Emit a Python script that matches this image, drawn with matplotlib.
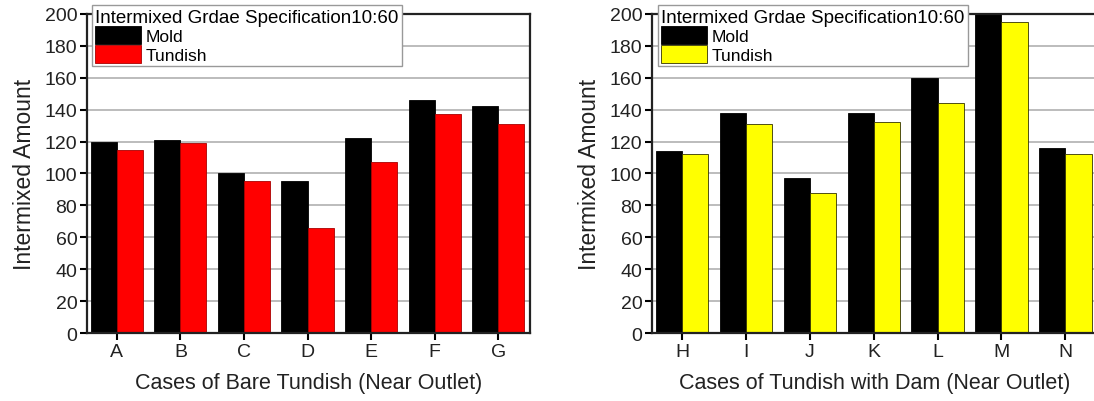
import matplotlib.pyplot as plt
import numpy as np

plt.rcParams['font.family'] = ['Liberation Sans', 'DejaVu Sans']

# data
cases_bare = ['A', 'B', 'C', 'D', 'E', 'F', 'G']
mold_bare = [120, 121, 100, 95, 122, 146, 142]
tundish_bare = [115, 119, 95, 66, 107, 137, 131]

cases_dam = ['H', 'I', 'J', 'K', 'L', 'M', 'N']
mold_dam = [114, 138, 97, 138, 160, 200, 116]
tundish_dam = [112, 131, 88, 132, 144, 195, 112]

legend_title = 'Intermixed Grdae Specification10:60'

fig = plt.figure(figsize=(10.94, 4.02), dpi=100)
ax1 = fig.add_axes([0.0795, 0.169, 0.405, 0.794])
ax2 = fig.add_axes([0.596, 0.169, 0.407, 0.794])


def draw(ax, cases, mold, tundish, color, edge, xlabel, leg_x):
    x = np.arange(len(cases))
    w = 0.41
    ax.set_axisbelow(True)
    ax.grid(axis='y', color='#b0b0b0', linewidth=1.2)
    ax.bar(x - w / 2, mold, w, color='black', edgecolor='black',
           linewidth=0.6, label='Mold')
    ax.bar(x + w / 2, tundish, w, color=color, edgecolor=edge,
           linewidth=0.6, label='Tundish')
    ax.set_xlim(-0.47, 6.5)
    ax.set_ylim(0, 200)
    ax.set_yticks(range(0, 201, 20))
    ax.set_xticks(x)
    ax.set_xticklabels(cases)
    ax.tick_params(direction='out', length=5, width=1.5, labelsize=14,
                   labelcolor='#222222', pad=2)
    for s in ax.spines.values():
        s.set_linewidth(1.6)
        s.set_color('#222222')
    ax.set_xlabel(xlabel, fontsize=15.5, color='#222222', labelpad=9)
    ax.set_ylabel('Intermixed Amount', fontsize=16.5, color='#222222', labelpad=6)
    leg = ax.legend(title=legend_title, loc='upper left',
                    bbox_to_anchor=(leg_x, 0.985), bbox_transform=fig.transFigure,
                    fontsize=12.5, title_fontsize=13.5, frameon=True, fancybox=False,
                    edgecolor='#999999', framealpha=1, handlelength=2.6,
                    handleheight=1.2, handletextpad=0.3, labelspacing=0.05,
                    borderpad=0.2, borderaxespad=0)
    leg._legend_box.align = 'left'
    leg.get_frame().set_linewidth(1.0)


draw(ax1, cases_bare, mold_bare, tundish_bare, '#ff0000', '#aa0000',
     'Cases of Bare Tundish (Near Outlet)', 92 / 1094)
draw(ax2, cases_dam, mold_dam, tundish_dam, '#ffff00', '#333300',
     'Cases of Tundish with Dam (Near Outlet)', 658 / 1094)

fig.savefig('out.png', dpi=100)
